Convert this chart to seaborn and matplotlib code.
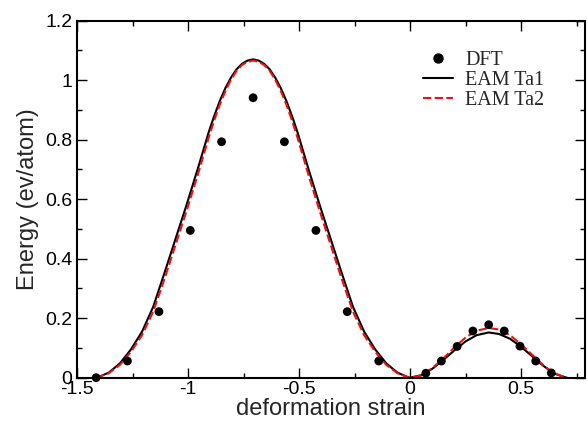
import matplotlib
matplotlib.use("Agg")
import matplotlib.pyplot as plt
import seaborn as sns
from matplotlib.lines import Line2D
from matplotlib.ticker import MultipleLocator

# ---- data ----
dft_x = [-1.414, -1.273, -1.131, -0.990, -0.849, -0.707, -0.566, -0.424, -0.283, -0.141,
         0.071, 0.141, 0.212, 0.283, 0.354, 0.424, 0.495, 0.566, 0.636]
dft_y = [0.000, 0.056, 0.222, 0.495, 0.793, 0.941, 0.793, 0.495, 0.222, 0.056,
         0.015, 0.056, 0.105, 0.157, 0.178, 0.157, 0.106, 0.056, 0.016]

curve_x = [-1.414, -1.407, -1.357, -1.307, -1.257, -1.207, -1.157, -1.107, -1.057, -1.007,
           -0.957, -0.907, -0.882, -0.857, -0.832, -0.807, -0.782, -0.757, -0.732, -0.707,
           -0.682, -0.657, -0.632, -0.607, -0.582, -0.557, -0.532, -0.507, -0.457, -0.407,
           -0.357, -0.307, -0.257, -0.207, -0.157, -0.107, -0.057, -0.007, 0.000,
           0.050, 0.100, 0.150, 0.200, 0.250, 0.300, 0.354, 0.400, 0.450,
           0.500, 0.550, 0.600, 0.650, 0.700, 0.707]
ta1_y = [0.000, 0.001, 0.017, 0.048, 0.095, 0.155, 0.238, 0.350, 0.465, 0.580,
         0.700, 0.825, 0.880, 0.930, 0.973, 1.008, 1.036, 1.055, 1.066, 1.070,
         1.066, 1.055, 1.036, 1.008, 0.973, 0.930, 0.880, 0.825, 0.700, 0.580,
         0.465, 0.350, 0.238, 0.155, 0.095, 0.048, 0.017, 0.001, 0.000,
         0.008, 0.030, 0.060, 0.092, 0.122, 0.143, 0.152, 0.147, 0.131,
         0.104, 0.072, 0.040, 0.014, 0.001, 0.000]
ta2_y = [0.000, 0.001, 0.015, 0.043, 0.087, 0.143, 0.222, 0.330, 0.445, 0.560,
         0.680, 0.807, 0.865, 0.918, 0.963, 1.001, 1.031, 1.051, 1.062, 1.066,
         1.062, 1.051, 1.031, 1.001, 0.963, 0.918, 0.865, 0.807, 0.680, 0.560,
         0.445, 0.330, 0.222, 0.143, 0.087, 0.043, 0.015, 0.001, 0.000,
         0.008, 0.032, 0.065, 0.102, 0.135, 0.158, 0.167, 0.162, 0.143,
         0.112, 0.077, 0.042, 0.014, 0.001, 0.000]

x_ticks = [-1.5, -1.0, -0.5, 0.0, 0.5]
x_ticklabels = ["-1.5", "-1", "-0.5", "0", "0.5"]
y_ticks = [0.0, 0.2, 0.4, 0.6, 0.8, 1.0, 1.2]
y_ticklabels = ["0", "0.2", "0.4", "0.6", "0.8", "1", "1.2"]
legend_labels = ["DFT", "EAM Ta1", "EAM Ta2"]

# ---- style ----
sns.set_theme(style="ticks")
plt.rcParams["font.family"] = ["Liberation Sans", "DejaVu Sans"]

fig = plt.figure(figsize=(5.88, 4.22), dpi=100)
ax = fig.add_axes([0.131, 0.105, 0.8647, 0.846])

red = "#ee1111"
sns.lineplot(x=curve_x, y=ta1_y, ax=ax, color="black", linewidth=1.5,
             sort=False, estimator=None, zorder=2)
sns.lineplot(x=curve_x, y=ta2_y, ax=ax, color=red, linewidth=1.5,
             sort=False, estimator=None, zorder=2.5)
ax.lines[-1].set_dashes([4, 1.6])
sns.scatterplot(x=dft_x, y=dft_y, ax=ax, color="black", s=40, edgecolor="none",
                zorder=3, clip_on=False)

ax.set_xlim(-1.5, 0.79)
ax.set_ylim(0, 1.2)
ax.set_xticks(x_ticks)
ax.set_xticklabels(x_ticklabels)
ax.set_yticks(y_ticks)
ax.set_yticklabels(y_ticklabels)
ax.xaxis.set_minor_locator(MultipleLocator(0.25))
ax.yaxis.set_minor_locator(MultipleLocator(0.1))
ax.tick_params(which="both", direction="in", top=True, right=True, width=1.0,
               colors="black", labelsize=14)
ax.tick_params(which="major", length=7.2)
ax.tick_params(which="minor", length=3.6)
ax.tick_params(axis="x", pad=2.5)
ax.tick_params(axis="y", pad=3.5)
for sp in ax.spines.values():
    sp.set_visible(True)
    sp.set_linewidth(1.5)
    sp.set_color("black")

ax.set_xlabel("deformation strain", fontsize=17, labelpad=0)
ax.set_ylabel("Energy (ev/atom)", fontsize=17, labelpad=4)

handles = [
    Line2D([], [], marker="o", color="black", linestyle="none", markersize=6.5),
    Line2D([], [], color="black", linewidth=1.5),
    Line2D([], [], color=red, linewidth=1.5, dashes=[4, 1.6]),
]
ax.legend(handles, legend_labels, loc="upper left", bbox_to_anchor=(0.68, 0.915),
          frameon=False, prop={"family": "Liberation Serif", "size": 14.5},
          handlelength=1.5, handletextpad=0.6, labelspacing=0.05, borderpad=0,
          borderaxespad=0)

fig.savefig("out.png", dpi=100, facecolor="white")
